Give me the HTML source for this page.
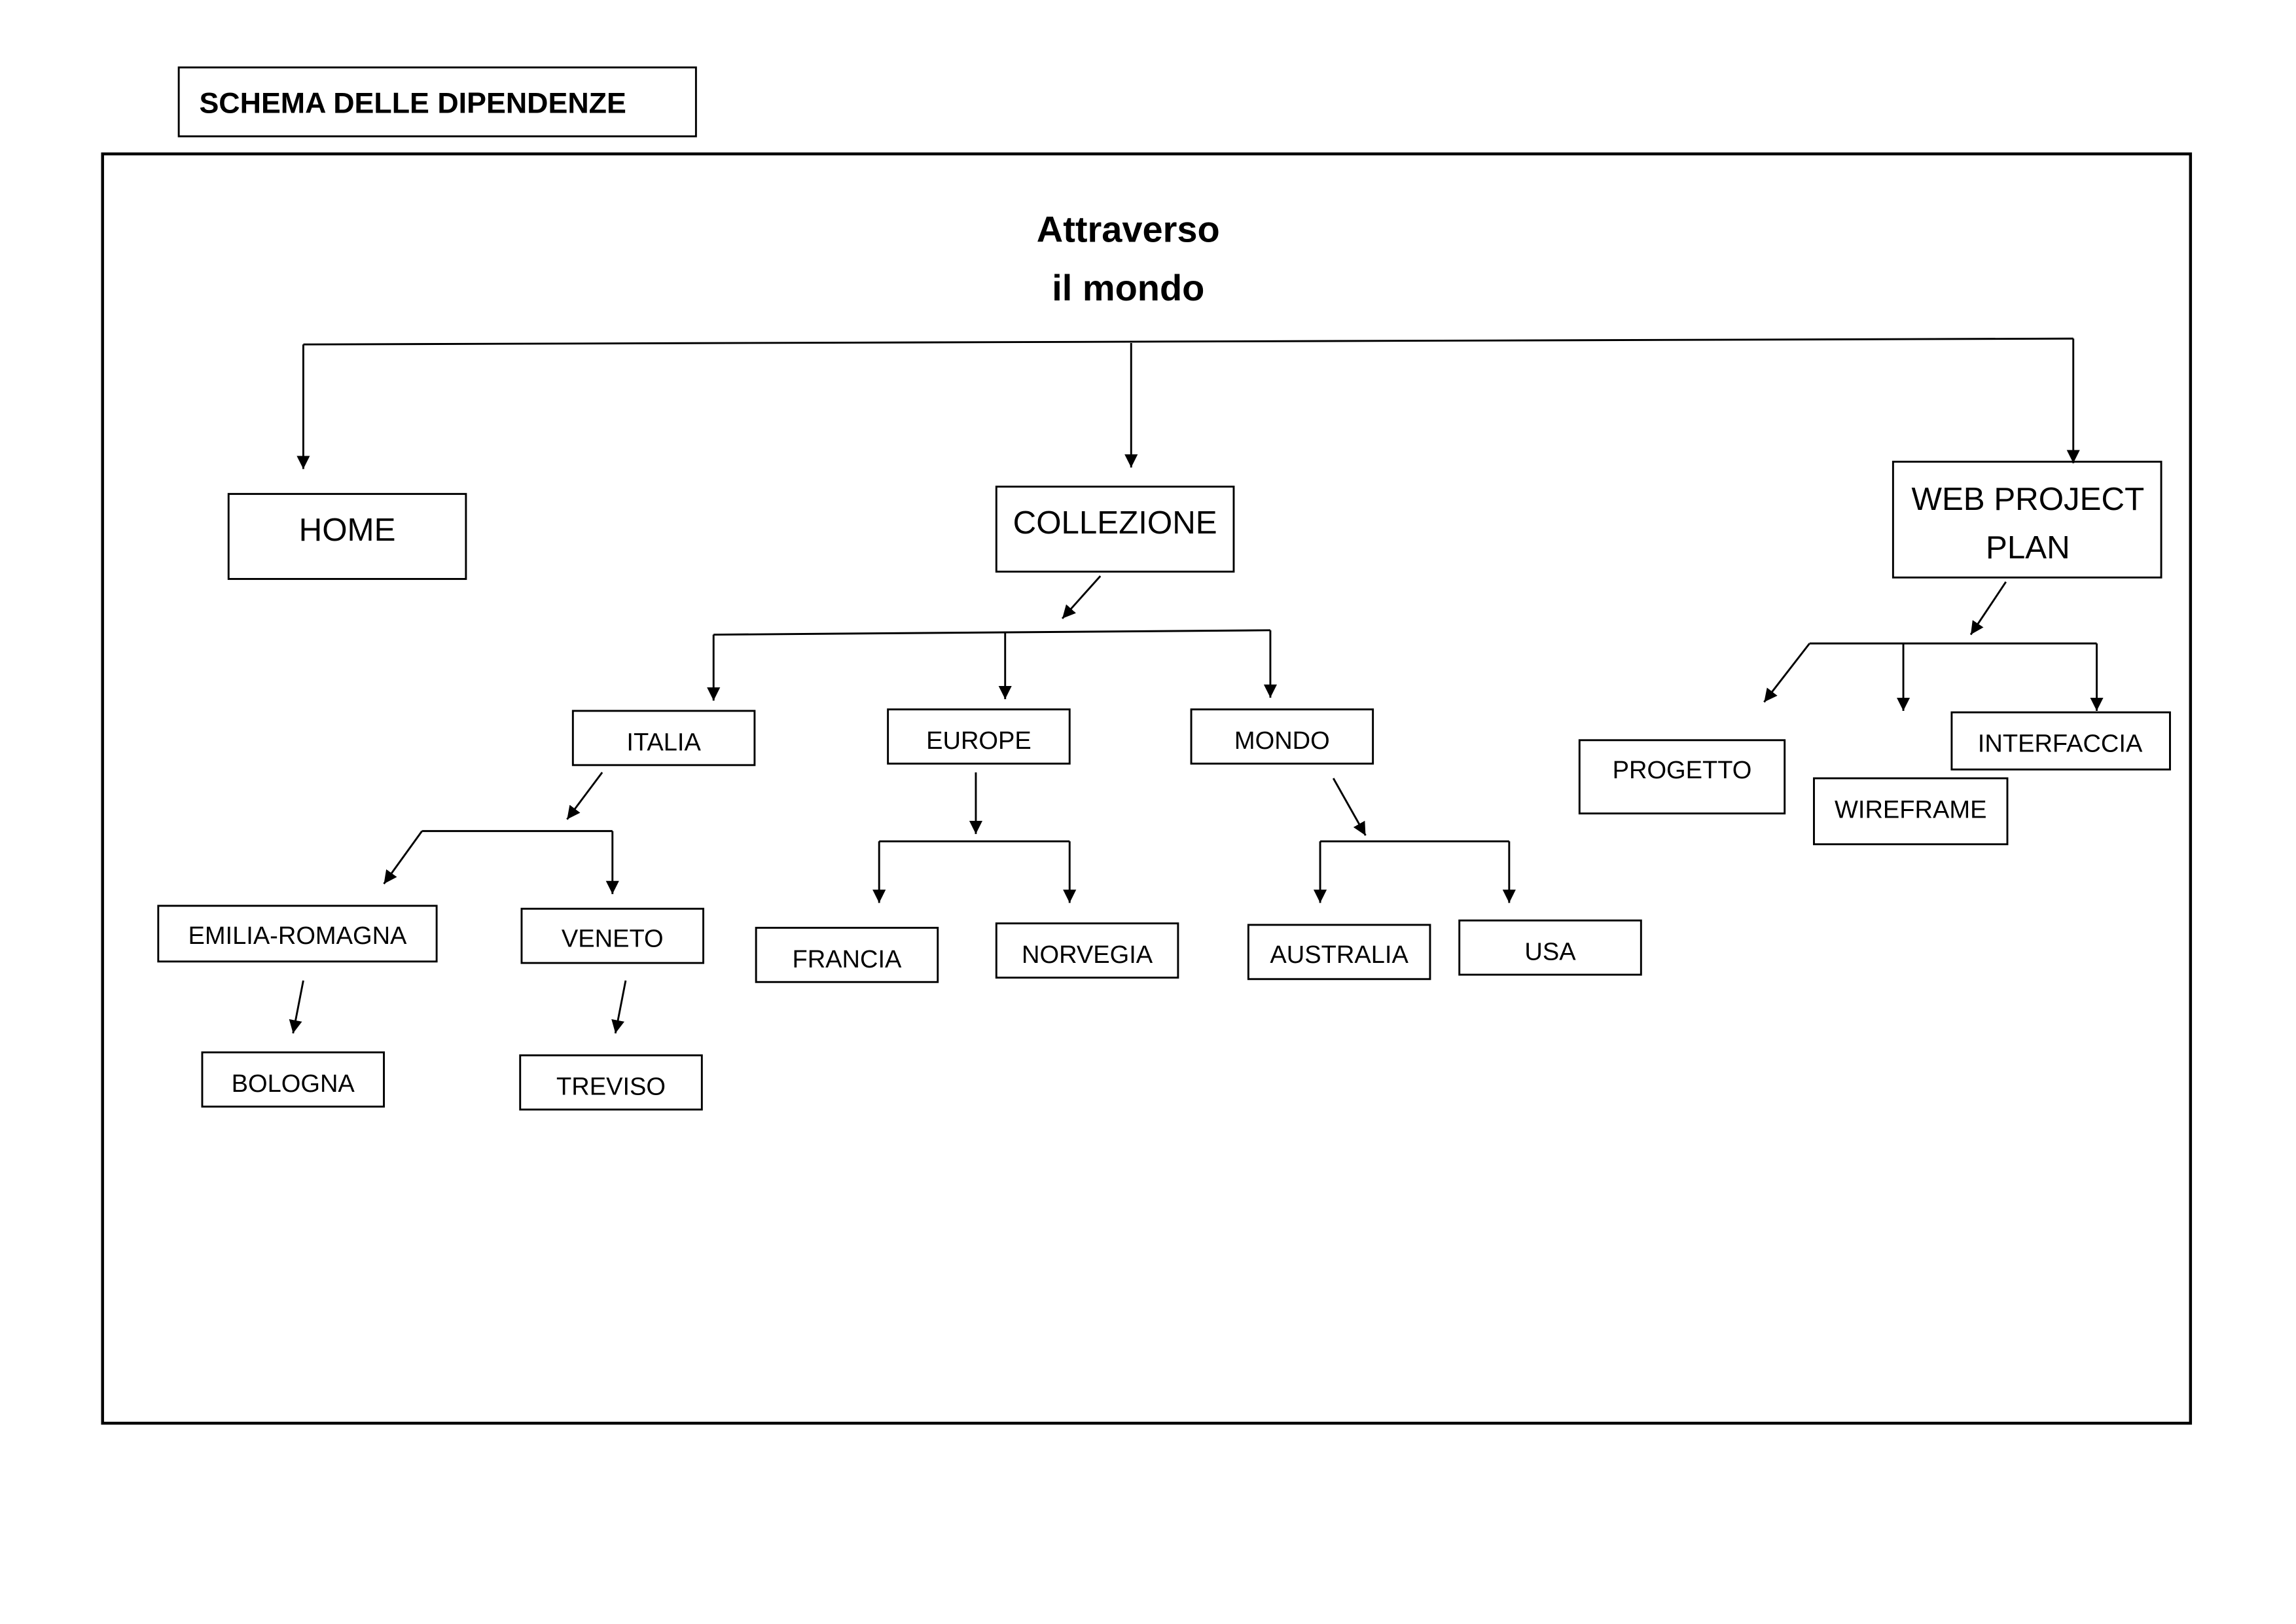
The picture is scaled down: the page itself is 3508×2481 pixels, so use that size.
<!DOCTYPE html>
<html><head><meta charset="utf-8"><style>
html,body{margin:0;padding:0;background:#fff;}
svg{display:block;}
text{font-family:"Liberation Sans",sans-serif;fill:#000;}
</style></head><body>
<svg width="3508" height="2481" viewBox="0 0 1567 1108" preserveAspectRatio="none" xmlns="http://www.w3.org/2000/svg">
<defs>
<marker id="a" viewBox="0 0 10 10" refX="10" refY="5" markerWidth="9" markerHeight="9" markerUnits="userSpaceOnUse" orient="auto">
<path d="M0,0 L10,5 L0,10 z" fill="#000"/></marker>
</defs>
<g fill="none" stroke="#000" stroke-width="1.3">
<rect x="122" y="46" width="353" height="47"/>
<rect x="70" y="105" width="1425" height="866" stroke-width="2"/>
<rect x="156" y="337" width="162" height="58"/>
<rect x="680" y="332" width="162" height="58"/>
<rect x="1292" y="315" width="183" height="79"/>
<rect x="391" y="485" width="124" height="37"/>
<rect x="606" y="484" width="124" height="37"/>
<rect x="813" y="484" width="124" height="37"/>
<rect x="108" y="618" width="190" height="38"/>
<rect x="356" y="620" width="124" height="37"/>
<rect x="138" y="718" width="124" height="37"/>
<rect x="355" y="720" width="124" height="37"/>
<rect x="516" y="633" width="124" height="37"/>
<rect x="680" y="630" width="124" height="37"/>
<rect x="852" y="631" width="124" height="37"/>
<rect x="996" y="628" width="124" height="37"/>
<rect x="1078" y="505" width="140" height="50"/>
<rect x="1332" y="486" width="149" height="39"/>
<rect x="1238" y="531" width="132" height="45"/>
<path d="M207,235 L1415,231"/>
<path d="M207,235 L207,320" marker-end="url(#a)"/>
<path d="M772,234 L772,319" marker-end="url(#a)"/>
<path d="M1415,231 L1415,316" marker-end="url(#a)"/>
<path d="M751,393 L725,422" marker-end="url(#a)"/>
<path d="M487,433 L867,430"/>
<path d="M487,433 L487,478" marker-end="url(#a)"/>
<path d="M686,432 L686,477" marker-end="url(#a)"/>
<path d="M867,430 L867,476" marker-end="url(#a)"/>
<path d="M411,527 L387,559" marker-end="url(#a)"/>
<path d="M288,567 L418,567"/>
<path d="M288,567 L262,603" marker-end="url(#a)"/>
<path d="M418,567 L418,610" marker-end="url(#a)"/>
<path d="M207,669 L200,705" marker-end="url(#a)"/>
<path d="M427,669 L420,705" marker-end="url(#a)"/>
<path d="M666,527 L666,569" marker-end="url(#a)"/>
<path d="M600,574 L730,574"/>
<path d="M600,574 L600,616" marker-end="url(#a)"/>
<path d="M730,574 L730,616" marker-end="url(#a)"/>
<path d="M910,531 L932,570" marker-end="url(#a)"/>
<path d="M901,574 L1030,574"/>
<path d="M901,574 L901,616" marker-end="url(#a)"/>
<path d="M1030,574 L1030,616" marker-end="url(#a)"/>
<path d="M1369,397 L1345,433" marker-end="url(#a)"/>
<path d="M1235,439 L1431,439"/>
<path d="M1235,439 L1204,479" marker-end="url(#a)"/>
<path d="M1299,439 L1299,485" marker-end="url(#a)"/>
<path d="M1431,439 L1431,485" marker-end="url(#a)"/>
</g>
<text x="136" y="77" font-size="20" font-weight="bold">SCHEMA DELLE DIPENDENZE</text>
<g text-anchor="middle">
<text x="770" y="165" font-size="25" font-weight="bold">Attraverso</text>
<text x="770" y="205" font-size="25" font-weight="bold">il mondo</text>
<g font-size="22">
<text x="237" y="369">HOME</text>
<text x="761" y="364">COLLEZIONE</text>
<text x="1384" y="348">WEB PROJECT</text>
<text x="1384" y="381">PLAN</text>
</g>
<g font-size="17">
<text x="453" y="512">ITALIA</text>
<text x="668" y="511">EUROPE</text>
<text x="875" y="511">MONDO</text>
<text x="203" y="644">EMILIA-ROMAGNA</text>
<text x="418" y="646">VENETO</text>
<text x="200" y="745">BOLOGNA</text>
<text x="417" y="747">TREVISO</text>
<text x="578" y="660">FRANCIA</text>
<text x="742" y="657">NORVEGIA</text>
<text x="914" y="657">AUSTRALIA</text>
<text x="1058" y="655">USA</text>
<text x="1148" y="531">PROGETTO</text>
<text x="1406" y="513">INTERFACCIA</text>
<text x="1304" y="558">WIREFRAME</text>
</g>
</g>
</svg>
</body></html>
